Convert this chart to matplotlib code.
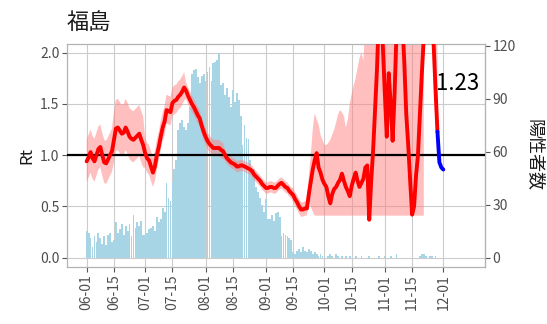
import datetime as dt
import numpy as np
import matplotlib
matplotlib.use("Agg")
import matplotlib.pyplot as plt
import matplotlib.dates as mdates

plt.rcParams['font.family'] = ['Noto Sans CJK JP', 'DejaVu Sans']

# ---------------- data ----------------
start = dt.date(2021, 6, 1)

cases = [15, 14, 11, 6, 12, 9, 14, 11, 8, 12, 7, 13, 14, 9,
         10, 20, 14, 16, 19, 13, 18, 15, 19, 12, 24, 17, 20, 18, 21, 13,
         13, 14, 16, 17, 18, 15, 23, 20, 22, 28, 26, 42, 34, 32,
         43, 50, 55, 72, 76, 78, 74, 72, 76, 85, 104, 106, 107, 102, 99, 103, 104,
         100, 105, 108, 100, 110, 111, 112, 116, 98, 99, 92, 96, 91, 85, 95, 88,
         93, 89, 80, 64, 75, 68, 67, 55, 48, 50, 40, 37, 34, 30, 26,
         33, 22, 22, 24, 21, 25, 26, 23, 12, 14, 13, 12, 11, 10,
         3, 2, 4, 5, 3, 6, 4, 3, 5, 4, 2, 3, 2, 1, 2, 1,
         1, 0, 1, 2, 1, 0, 2, 1, 0, 1, 0, 1, 0, 1, 0, 0, 1, 0, 0, 1, 0, 0, 0, 1, 0, 0, 0, 0, 1, 0, 0,
         1, 0, 0, 1, 0, 0, 2, 0, 0, 0, 0, 0, 0, 0, 0, 0, 0, 0, 1, 2, 2, 1, 0, 1, 1, 0, 1, 0, 0, 0]

rt = [0.94, 0.98, 1.03, 0.97, 0.94, 1.00, 1.06, 1.08, 1.00, 0.93, 0.92, 0.96, 1.00, 1.04,
      1.15, 1.26, 1.27, 1.24, 1.21, 1.22, 1.27, 1.23, 1.18, 1.16, 1.15, 1.17, 1.19, 1.21, 1.15, 1.10,
      1.02, 0.97, 0.95, 0.89, 0.83, 0.89, 1.00, 1.08, 1.18, 1.27, 1.33, 1.44, 1.43, 1.42,
      1.51, 1.53, 1.54, 1.57, 1.59, 1.62, 1.66, 1.63, 1.58, 1.54, 1.50, 1.47, 1.43, 1.39, 1.36, 1.29, 1.23,
      1.18, 1.14, 1.11, 1.09, 1.07, 1.07, 1.07, 1.07, 1.05, 1.04, 1.00, 0.97, 0.95, 0.93, 0.92, 0.91,
      0.89, 0.89, 0.90, 0.90, 0.89, 0.88, 0.87, 0.86, 0.84, 0.81, 0.79, 0.77, 0.75, 0.72, 0.70,
      0.68, 0.68, 0.69, 0.69, 0.68, 0.68, 0.70, 0.72, 0.73, 0.71, 0.69, 0.68, 0.65, 0.63,
      0.61, 0.57, 0.54, 0.50, 0.47, 0.47, 0.48, 0.48, 0.62, 0.74, 0.86, 0.95, 1.02, 0.88, 0.83, 0.76,
      0.72, 0.69, 0.60, 0.53, 0.62, 0.67, 0.69, 0.73, 0.76, 0.82, 0.75, 0.69, 0.65, 0.60, 0.70, 0.77,
      0.83, 0.75, 0.69, 0.73, 0.77, 0.88, 0.90, 0.37, 0.75, 1.05, 1.45, 1.85, 2.40, 2.60, 2.05,
      1.60, 1.18, 1.80, 1.50, 1.14, 1.60, 2.20, 3.00, 2.80, 2.30, 1.90, 1.40, 1.10, 0.75, 0.42,
      0.50, 0.80, 1.00, 1.40, 1.80, 2.15, 2.80, 3.20, 3.20, 2.80, 2.10, 1.65, 1.23]

rt_recent = [1.23, 0.93, 0.88, 0.86]   # last days (blue)

rt_lower_offset = ([0.20] * 14 + [0.22] * 16 + [0.14] * 7 + [0.13] * 14 + [0.08] * 20 +
                   [0.055] * 35 + [0.07] * 8)
rt_upper_offset = ([0.22] * 14 + [0.28] * 16 + [0.15] * 7 + [0.15] * 14 + [0.08] * 20 +
                   [0.055] * 35 + [0.07] * 8)
# wide band from late September on (days 114..173)
band_lower_late = [0.55, 0.50, 0.45] + [0.41] * 57
band_upper_late = [0.80, 1.00, 1.25, 1.41, 1.35, 1.30, 1.20, 1.15, 1.10, 1.10, 1.12, 1.15,
                   1.20, 1.25, 1.32, 1.40, 1.44, 1.42, 1.38, 1.27, 1.35, 1.50, 1.60, 1.68,
                   1.75, 1.85, 1.95, 2.00, 1.92, 2.30, 2.6, 3.0] + [5.0] * 28
band_lower_end = [np.nan] * 4 + [1.70, 1.30, 1.00]
band_upper_end = [np.nan] * 4 + [5.0, 5.0, 2.5]

count_ticks = [0, 30, 60, 90, 120]
rt_ticks = [0.0, 0.5, 1.0, 1.5, 2.0]
date_ticks = ["06-01", "06-15", "07-01", "07-15", "08-01", "08-15", "09-01",
              "09-15", "10-01", "10-15", "11-01", "11-15", "12-01"]
latest_label = "1.23"

# ---------------- derived ----------------
F = 58.0  # cases per Rt unit on the secondary axis
days = [start + dt.timedelta(days=i) for i in range(len(cases))]
rdays = [start + dt.timedelta(days=i) for i in range(len(rt))]
bdays = [start + dt.timedelta(days=len(rt) - 1 + i) for i in range(len(rt_recent))]
rt_arr = np.array(rt)
lower = np.concatenate([rt_arr[:114] - np.array(rt_lower_offset), band_lower_late, band_lower_end])
upper = np.concatenate([rt_arr[:114] + np.array(rt_upper_offset), band_upper_late, band_upper_end])

W, H = 547, 324
fig = plt.figure(figsize=(W / 100, H / 100), dpi=100)
L, R, T, B = 67, 485, 44.3, 267
ax = fig.add_axes([L / W, 1 - B / H, (R - L) / W, (B - T) / H])

ax.bar(days, np.array(cases) / F, width=0.92, color='#a8d5e5', linewidth=0, zorder=1)
ax.fill_between(rdays, lower, upper, color='#ff8080', alpha=0.5, lw=0, zorder=2)
ax.axhline(1.0, color='black', lw=1.6, zorder=3)
ax.plot(rdays, rt, color='red', lw=2.8, zorder=4, solid_capstyle='round')
ax.plot(bdays, rt_recent, color='blue', lw=2.8, zorder=5, solid_capstyle='round')

x0 = mdates.date2num(start)
ax.set_xlim(x0 - 10.1, x0 + 183 + 21.4)
ax.set_ylim(-0.091, 2.082)

tick_dates = [dt.date(2021, int(s[:2]), int(s[3:])) for s in date_ticks]
ax.set_xticks(tick_dates)
ax.set_xticklabels(date_ticks, rotation=90)
ax.set_yticks(rt_ticks)
ax.set_yticklabels([f"{v:.1f}" for v in rt_ticks])

ax.grid(True, color='#cccccc', lw=0.8, zorder=0)
ax.set_axisbelow(True)
for s in ax.spines.values():
    s.set_color('#b3b3b3')
    s.set_linewidth(0.9)
ax.tick_params(axis='both', colors='#555555', labelcolor='#4d4d4d', labelsize=10,
               length=3.5, width=0.8, pad=2)

sec = ax.secondary_yaxis('right', functions=(lambda r: r * F, lambda c: c / F))
sec.set_yticks(count_ticks)
sec.set_yticklabels([str(c) for c in count_ticks])
sec.spines['right'].set_color('#b3b3b3')
sec.tick_params(axis='y', colors='#555555', labelcolor='#4d4d4d', labelsize=10,
                length=3.5, width=0.8, pad=2)

ax.text(x0 + 190.5, 1.70, latest_label, fontsize=16, ha='center', va='center',
        color='black', zorder=6)

fig.text(67 / W, 1 - 22 / H, '福島', fontsize=16, ha='left', va='center', color='#1a1a1a')
fig.text(27 / W, 1 - 155 / H, 'Rt', fontsize=12, rotation=90, ha='center', va='center',
         color='#1a1a1a')
fig.text(534 / W, 1 - 155 / H, '陽性者数', fontsize=13, rotation=270, ha='center',
         va='center', color='#1a1a1a')

fig.savefig('out.png', dpi=100)
